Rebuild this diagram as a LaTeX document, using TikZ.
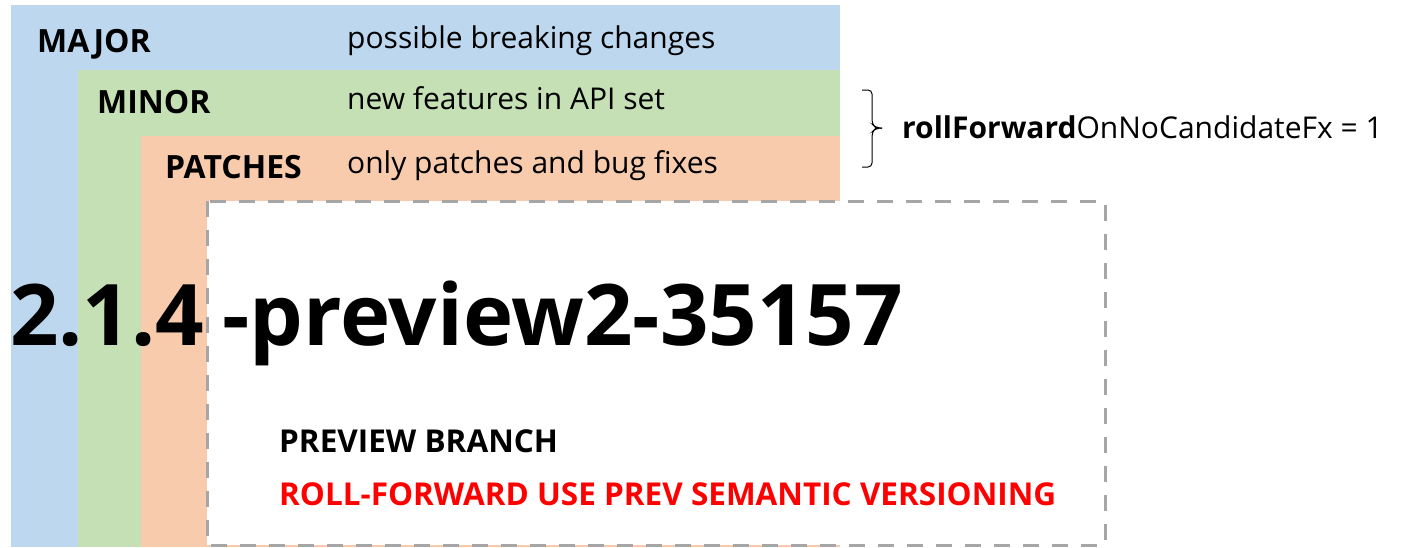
\documentclass[tikz,border=0pt]{standalone}
\usepackage{fontspec}
\setmainfont{Open Sans}
\begin{document}
\begin{tikzpicture}[x=1pt,y=-1pt,
  lbl/.style={anchor=base west,inner sep=0pt,font=\fontsize{32}{36}\selectfont\bfseries},
  desc/.style={anchor=base west,inner sep=0pt,font=\fontsize{30}{34}\selectfont},
  big/.style={anchor=base west,inner sep=0pt,font=\fontsize{85}{90}\selectfont\bfseries},
  note/.style={anchor=base west,inner sep=0pt,font=\fontsize{31.5}{34}\selectfont\bfseries},
  dashbox/.style={draw=dashgray,line width=3pt,dash pattern=on 16pt off 13pt,fill=white}]
\definecolor{majorblue}{HTML}{BDD7EE}
\definecolor{minorgreen}{HTML}{C5E0B4}
\definecolor{patchorange}{HTML}{F8CBAD}
\definecolor{dashgray}{HTML}{A6A6A6}
\definecolor{rollred}{HTML}{FF0000}
\useasboundingbox (0,0) rectangle (1413,547);
\fill[majorblue] (11,5) rectangle (840,547);
\fill[minorgreen] (78,70) rectangle (840,547);
\fill[patchorange] (141,136) rectangle (840,547);
\draw[dashbox] (207,201) rectangle (1105,545);
\node[lbl] (major) at (37,52) {MAJOR};
\node[desc] (majord) at (347,48) {possible breaking changes};
\node[lbl] (minor) at (97,113) {MINOR};
\node[desc] (minord) at (347,109) {new features in API set};
\node[lbl] (patches) at (165,178) {PATCHES};
\node[desc] (patchesd) at (347,173) {only patches and bug fixes};
\node[big] (ver) at (10,345) {2.1.4};
\node[big] (pre) at (222,345) {-preview2-35157};
\node[note] (branch) at (279,452) {PREVIEW BRANCH};
\node[note,text=rollred] (roll) at (279,505) {ROLL-FORWARD USE PREV SEMANTIC VERSIONING};
\coordinate (btop) at (862,90);
\coordinate (bbot) at (862,167);
\coordinate (btip) at (882,128);
\draw[line width=1pt,rounded corners=4pt] (btop) -- (872,90) -- (872,124) -- (876,128) -- (btip);
\draw[line width=1pt,rounded corners=4pt] (bbot) -- (872,167) -- (872,132) -- (876,128) -- (btip);
\node[desc] (rf) at (902,138) {\textbf{rollForward}OnNoCandidateFx = 1};
\end{tikzpicture}
\end{document}
